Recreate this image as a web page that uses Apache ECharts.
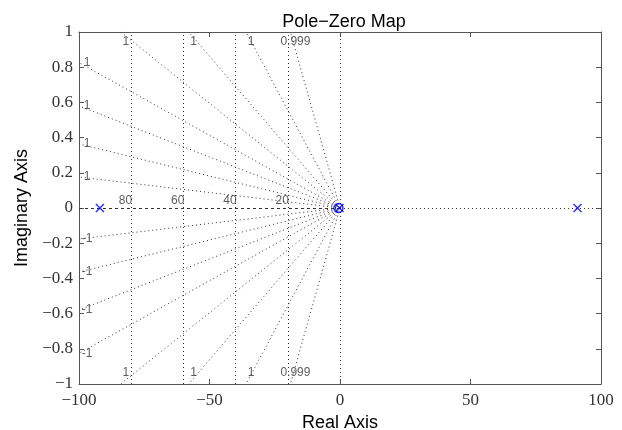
<!DOCTYPE html>
<html>
<head>
<meta charset="utf-8">
<title>Pole-Zero Map</title>
<script src="https://cdn.jsdelivr.net/npm/echarts@6.0.0/dist/echarts.min.js"></script>
<style>
html, body {margin: 0; padding: 0; background: #fff;}
#chart {width: 622px; height: 430px;}
</style>
</head>
<body>
<div id="chart"></div>
<script>
// pole / zero locations (real, imag)
const poles = [[-92, 0], [91, 0], [-0.2, 0]];
const zeros = [[-0.6, 0]];

// damping-ratio rays from the origin: where each one leaves the box
const dampTopRe = [-84, -58, -36, -19];
const dampTopLabels = ['1', '1', '1', '0.999'];
const dampSideIm = [0.826, 0.58, 0.364, 0.176];
const dampSideLabels = ['1', '1', '1', '1'];

// natural-frequency circles (look like verticals at this aspect)
const wnValues = [80, 60, 40, 20];
const wnLabels = ['80', '60', '40', '20'];

const frameGray = '#555';
const gridGray = '#333';
const blue = '#0000ff';
const tickFont = 'Liberation Serif, DejaVu Serif, serif';
const textFont = 'Liberation Sans, Arial, sans-serif';


const rays = [];
for (const x of dampTopRe) {
    rays.push({coords: [[0, 0], [x, 1]]});
    rays.push({coords: [[0, 0], [x, -1]]});
}
for (const y of dampSideIm) {
    rays.push({coords: [[0, 0], [-100, y]]});
    rays.push({coords: [[0, 0], [-100, -y]]});
}
rays.push({coords: [[0, 0], [0, 1]]});
rays.push({coords: [[0, 0], [0, -1]]});
rays.push({coords: [[0, 0], [100, 0]]});

const circles = wnValues.map(w => ({coords: [[-w, -1], [-w, 1]]}));

const fmtMinus = v => String(Math.round(v * 10) / 10).replace('-', '\u2212');

const labelStyle = {
    show: true,
    formatter: '{b}',
    color: '#333',
    fontSize: 12,
    fontFamily: textFont,
    position: 'inside',
};

function labelSeries(data, extra) {
    return {
        type: 'scatter',
        symbolSize: 0,
        silent: true,
        z: 3,
        data,
        label: Object.assign({}, labelStyle, extra),
    };
}

function boxAxis(kind, pos) {
    const isX = kind === 'x';
    return {
        type: 'value',
        position: pos,
        min: isX ? -100 : -1,
        max: isX ? 100 : 1,
        interval: isX ? 50 : 0.2,
        axisLine: {onZero: false, lineStyle: {color: frameGray, width: 1}},
        axisTick: {inside: true, length: 5, lineStyle: {color: frameGray}},
        axisLabel: {show: false},
        splitLine: {show: false},
    };
}

const chart = echarts.init(document.getElementById('chart'), null, {renderer: 'canvas'});

chart.setOption({
    animation: false,
    backgroundColor: '#fff',
    title: {
        text: 'Pole\u2212Zero Map',
        left: 339,
        textAlign: 'center',
        top: 8,
        textStyle: {fontFamily: textFont, fontSize: 18, fontWeight: 'normal', color: '#000'},
    },
    grid: {left: 79, right: 21, top: 32, bottom: 46, containLabel: false, outerBoundsMode: 'none'},
    xAxis: [Object.assign(boxAxis('x', 'bottom'), {
        name: 'Real Axis',
        nameLocation: 'middle',
        nameGap: 25,
        nameTextStyle: {fontFamily: textFont, fontSize: 18, color: '#000'},
        axisLabel: {
            formatter: fmtMinus,
            fontFamily: tickFont,
            fontSize: 17,
            color: '#333',
            margin: 8,
        },
    }), boxAxis('x', 'top')],
    yAxis: [Object.assign(boxAxis('y', 'left'), {
        name: 'Imaginary Axis',
        nameLocation: 'middle',
        nameGap: 48,
        nameRotate: 90,
        nameTextStyle: {fontFamily: textFont, fontSize: 18, color: '#000'},
        axisLabel: {
            formatter: fmtMinus,
            fontFamily: tickFont,
            fontSize: 17,
            color: '#333',
            margin: 6,
        },
    }), boxAxis('y', 'right')],
    series: [
        {
            type: 'lines',
            coordinateSystem: 'cartesian2d',
            silent: true,
            clip: true,
            z: 1,
            lineStyle: {color: gridGray, width: 1, type: [1, 3], opacity: 1},
            data: rays,
        },
        {
            type: 'lines',
            coordinateSystem: 'cartesian2d',
            silent: true,
            z: 1,
            lineStyle: {color: gridGray, width: 1, type: [1, 3], opacity: 1},
            data: circles,
        },
        {
            type: 'lines',
            coordinateSystem: 'cartesian2d',
            silent: true,
            z: 1,
            lineStyle: {color: gridGray, width: 1, type: [3, 3], opacity: 1},
            data: [{coords: [[0, 0], [-100, 0]]}],
        },
        labelSeries(dampTopRe.map((x, i) => ({value: [x, 1], name: dampTopLabels[i]})), {offset: [5, 10]}),
        labelSeries(dampTopRe.map((x, i) => ({value: [x, -1], name: dampTopLabels[i]})), {offset: [5, -11]}),
        labelSeries(dampSideIm.map((y, i) => ({value: [-100, y], name: dampSideLabels[i]})), {offset: [8, 0]}),
        labelSeries(dampSideIm.map((y, i) => ({value: [-100, -y], name: '-' + dampSideLabels[i]})), {offset: [8, 0]}),
        labelSeries(wnValues.map((w, i) => ({value: [-w, 0], name: wnLabels[i]})),
            {align: 'right', verticalAlign: 'bottom', offset: [1, -1]}),
        {
            type: 'scatter',
            name: 'poles',
            symbol: 'path://M0 0L10 10M10 0L0 10',
            symbolSize: 8,
            z: 5,
            itemStyle: {color: 'none', borderColor: blue, borderWidth: 1.5},
            data: poles,
        },
        {
            type: 'scatter',
            name: 'zeros',
            symbol: 'circle',
            symbolSize: 9,
            z: 5,
            itemStyle: {color: 'none', borderColor: blue, borderWidth: 1.5},
            data: zeros,
        },
    ],
});
</script>
</body>
</html>
